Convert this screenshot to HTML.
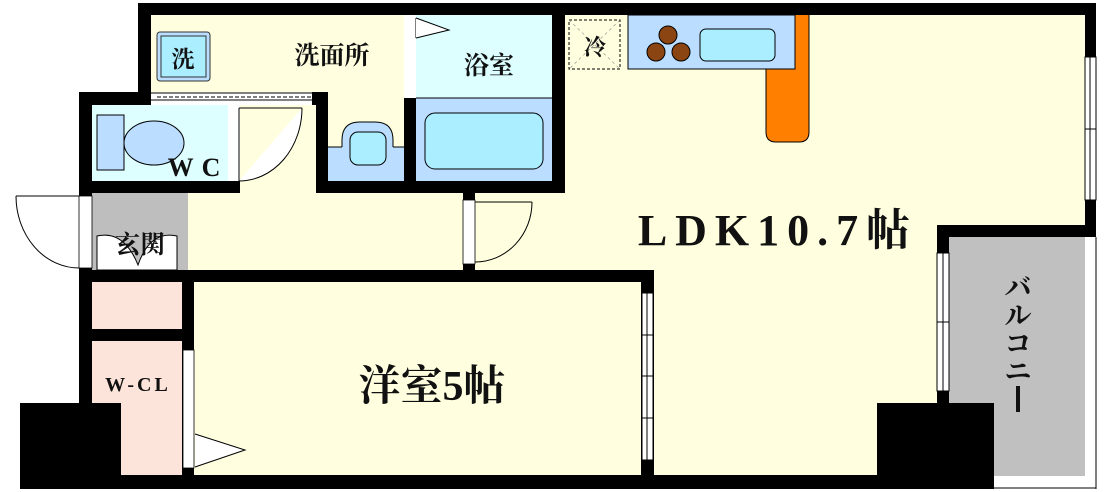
<!DOCTYPE html>
<html><head><meta charset="utf-8"><style>
html,body{margin:0;padding:0;background:#fff;}
svg{display:block;}
text{font-family:"Liberation Serif","Noto Serif CJK SC","Noto Sans CJK JP",serif;font-weight:bold;fill:#111;}
</style></head><body>
<svg width="1110" height="492" viewBox="0 0 1110 492" xmlns="http://www.w3.org/2000/svg">
<rect width="1110" height="492" fill="#fff"/>
<!-- floors -->
<rect x="151" y="15" width="253" height="77" fill="#FFFFE0"/>
<rect x="240" y="92" width="164" height="101" fill="#FFFFE0"/>
<rect x="188" y="193" width="380" height="77" fill="#FFFFE0"/>
<rect x="565" y="15" width="520" height="460" fill="#FFFFE0"/>
<rect x="194" y="282" width="450" height="193" fill="#FFFFE0"/>
<!-- bath -->
<rect x="416" y="15" width="136" height="83" fill="#DDFFFF"/>
<rect x="416" y="98" width="136" height="83" fill="#BBDDFF"/>
<rect x="425" y="113" width="118" height="56" rx="10" fill="#AAEEFF" stroke="#000" stroke-width="1"/>
<line x1="416" y1="98" x2="552" y2="98" stroke="#000" stroke-width="1"/>
<!-- wash basin area -->
<rect x="328" y="147" width="76" height="34" fill="#BBDDFF"/>
<path d="M342 147 L342 140 Q342 122 360 122 L375 122 Q393 122 393 140 L393 147" fill="#BBDDFF" stroke="#000" stroke-width="1"/>
<line x1="328" y1="147" x2="342" y2="147" stroke="#000"/><line x1="393" y1="147" x2="404" y2="147" stroke="#000"/>
<rect x="350" y="132" width="36" height="33" rx="8" fill="#AAEEFF" stroke="#000"/>
<!-- washer -->
<rect x="157" y="32" width="53" height="49" rx="3" fill="#BBDDFF" stroke="#333"/>
<rect x="161" y="36" width="45" height="41" fill="#AAEEFF" stroke="#333"/>
<!-- WC -->
<rect x="92" y="105" width="136" height="76" fill="#DDFFFF"/>
<rect x="97" y="115" width="27" height="55" fill="#BBDDFF" stroke="#000"/>
<ellipse cx="154" cy="143" rx="30" ry="22" fill="#BBDDFF" stroke="#000"/>
<rect x="228" y="105" width="11" height="76" fill="#fff"/>
<line x1="239" y1="108" x2="239" y2="181" stroke="#000"/>
<path d="M302 108 A63 73 0 0 1 239 181" fill="#fff" stroke="#000"/>
<line x1="239" y1="108" x2="302" y2="108" stroke="#000"/>
<!-- genkan -->
<rect x="92" y="193" width="96" height="77" fill="#BEBEBE"/>
<path d="M97 236 L97 270 L177 270 L177 236 Q150 230 138 265 Q124 230 97 236 Z" fill="#fff" stroke="#000"/>
<rect x="97" y="270" width="80" height="11" fill="#fff" stroke="#000"/>
<line x1="137" y1="272" x2="137" y2="279" stroke="#000"/>
<!-- W-CL -->
<rect x="92" y="282" width="90" height="47" fill="#FCE4DA"/>
<rect x="92" y="341" width="90" height="134" fill="#FCE4DA"/>
<!-- balcony -->
<rect x="949" y="237" width="136" height="239" fill="#C0C0C0"/>
<!-- walls -->
<g fill="#000">
<rect x="138" y="3" width="958" height="12"/>
<rect x="138" y="3" width="13" height="89"/>
<rect x="79" y="92" width="161" height="13"/>
<rect x="312" y="92" width="16" height="13"/>
<rect x="316" y="92" width="12" height="101"/>
<rect x="404" y="98" width="12" height="95"/>
<rect x="316" y="181" width="249" height="12"/>
<rect x="552" y="15" width="13" height="178"/>
<rect x="79" y="181" width="161" height="12"/>
<rect x="79" y="92" width="13" height="104"/>
<rect x="79" y="268" width="13" height="135"/>
<rect x="79" y="270" width="575" height="12"/>
<rect x="79" y="329" width="115" height="12"/>
<rect x="182" y="282" width="12" height="193"/>
<rect x="641" y="270" width="13" height="205"/>
<rect x="20" y="403" width="101" height="86"/>
<rect x="20" y="475" width="974" height="14"/>
<rect x="877" y="403" width="117" height="86"/>
<rect x="1085" y="3" width="11" height="54"/>
<rect x="1085" y="200" width="11" height="37"/>
<rect x="937" y="225" width="159" height="12"/>
<rect x="937" y="225" width="12" height="28"/>
<rect x="937" y="391" width="12" height="12"/>
<rect x="463" y="193" width="12" height="7"/>
<rect x="463" y="264" width="12" height="6"/>
</g>
<!-- sliding door between laundry and WC -->
<rect x="151" y="92" width="161" height="13" fill="#fff"/>
<line x1="151" y1="93" x2="312" y2="93" stroke="#000"/>
<line x1="157" y1="97" x2="312" y2="97" stroke="#000" stroke-dasharray="4,2"/>
<line x1="151" y1="100" x2="312" y2="100" stroke="#000"/>
<!-- bath door -->
<rect x="404" y="15" width="12" height="83" fill="#fff"/>
<line x1="416" y1="18" x2="416" y2="38" stroke="#000"/>
<path d="M416 18 L449 30 L416 38" fill="#fff" stroke="#000"/>
<!-- entrance door -->
<rect x="79" y="196" width="13" height="72" fill="#fff" stroke="#000" stroke-width="0.8"/>
<path d="M16 196 A63 72 0 0 0 79 268" fill="none" stroke="#000"/>
<line x1="16" y1="196" x2="79" y2="196" stroke="#000"/>
<!-- LDK door -->
<rect x="463" y="200" width="12" height="64" fill="#fff" stroke="#000" stroke-width="0.8"/>
<path d="M532 202 A57 60 0 0 1 475 262" fill="none" stroke="#000"/>
<line x1="475" y1="202" x2="532" y2="202" stroke="#000"/>
<!-- WCL door -->
<rect x="183" y="350" width="11" height="118" fill="#fff" stroke="#000" stroke-width="0.8"/>
<path d="M195 434 L245 450 L195 467" fill="#fff" stroke="#000"/>
<!-- windows -->
<g fill="#fff" stroke="#000" stroke-width="1">
<rect x="642" y="293" width="11" height="167"/>
<rect x="937" y="253" width="12" height="138"/>
<rect x="1085" y="57" width="11" height="143"/>
</g>
<g stroke="#000" stroke-width="1">
<line x1="647" y1="293" x2="647" y2="460"/>
<line x1="943" y1="253" x2="943" y2="391"/>
<line x1="1090" y1="57" x2="1090" y2="200"/>
<line x1="642" y1="335" x2="653" y2="335"/><line x1="642" y1="376" x2="653" y2="376"/><line x1="642" y1="418" x2="653" y2="418"/>
<line x1="937" y1="322" x2="949" y2="322"/><line x1="1085" y1="129" x2="1096" y2="129"/>
<line x1="1096" y1="237" x2="1096" y2="489"/>
<line x1="994" y1="488" x2="1096" y2="488"/>
</g>
<!-- kitchen -->
<rect x="569" y="20" width="51" height="49" fill="none" stroke="#000" stroke-dasharray="3,2"/>
<line x1="569" y1="20" x2="620" y2="69" stroke="#888" stroke-width="0.6" stroke-dasharray="3,3"/>
<line x1="620" y1="20" x2="569" y2="69" stroke="#888" stroke-width="0.6" stroke-dasharray="3,3"/>
<path d="M766 15 L766 132 Q766 142 776 142 L799 142 Q809 142 809 132 L809 15" fill="#FF8000" stroke="#000"/>
<rect x="628" y="15" width="167" height="54" fill="#BBDDFF" stroke="#000"/>
<circle cx="668" cy="35" r="9" fill="#8B4513" stroke="#000"/>
<circle cx="656" cy="52" r="9" fill="#8B4513" stroke="#000"/>
<circle cx="681" cy="52" r="9" fill="#8B4513" stroke="#000"/>
<rect x="700" y="29" width="75" height="32" rx="6" fill="#AAEEFF" stroke="#000"/>
<!-- labels -->
<text x="183" y="67" font-size="23" text-anchor="middle">洗</text>
<text x="332" y="64" font-size="25" text-anchor="middle">洗面所</text>
<text x="489" y="74" font-size="25" text-anchor="middle">浴室</text>
<text x="595" y="55" font-size="22" text-anchor="middle">冷</text>
<text x="198" y="176" font-size="26" text-anchor="middle" letter-spacing="8">WC</text>
<text x="140" y="253" font-size="25" text-anchor="middle">玄関</text>
<text x="138" y="391" font-size="20" text-anchor="middle" letter-spacing="3">W-CL</text>
<text x="432" y="400" font-size="42" text-anchor="middle">洋室5帖</text>
<text x="778" y="245" font-size="44" text-anchor="middle" letter-spacing="8">LDK10.7帖</text>
<g font-size="27" text-anchor="middle">
<text x="1018" y="297">バ</text>
<text x="1018" y="325">ル</text>
<text x="1018" y="353">コ</text>
<text x="1018" y="381">ニ</text>
</g>
<rect x="1016" y="386" width="4" height="26" fill="#111"/>
</svg>
</body></html>
